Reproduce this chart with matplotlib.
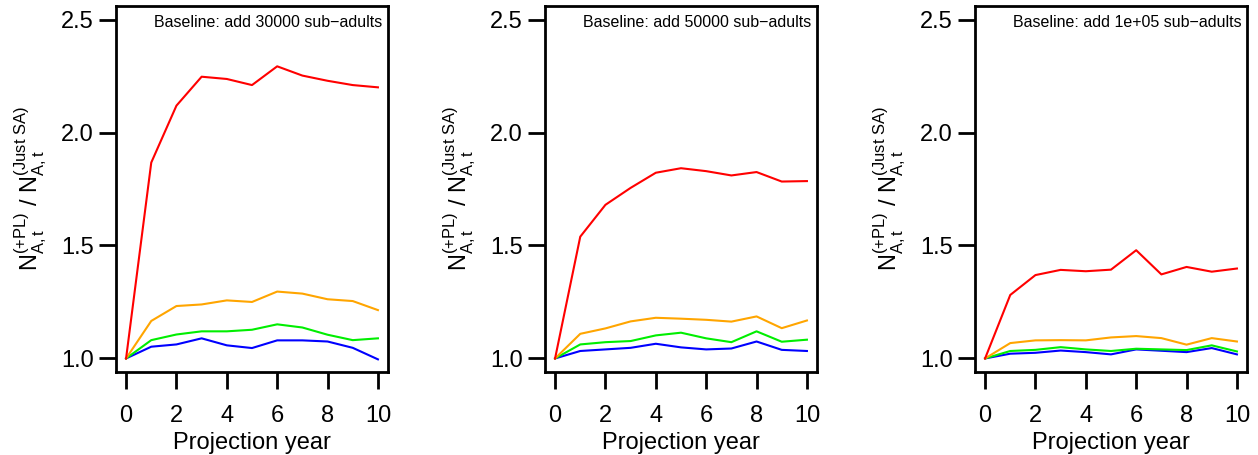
import numpy as np
import matplotlib
matplotlib.use("Agg")
import matplotlib.pyplot as plt

plt.rcParams['font.family'] = ['Liberation Sans', 'DejaVu Sans']
plt.rcParams['mathtext.fontset'] = 'custom'
plt.rcParams['mathtext.rm'] = 'Liberation Sans'
plt.rcParams['mathtext.it'] = 'Liberation Sans:italic'

years = np.arange(11)
baselines = ["30000", "50000", "1e+05"]

# panel 1: add 30000 sub-adults
red_1 = [1.0, 1.867, 2.119, 2.247, 2.237, 2.21, 2.293, 2.252, 2.229, 2.21, 2.2]
orange_1 = [1.0, 1.166, 1.232, 1.239, 1.257, 1.25, 1.296, 1.287, 1.262, 1.254, 1.214]
green_1 = [1.0, 1.081, 1.106, 1.12, 1.12, 1.127, 1.151, 1.137, 1.105, 1.081, 1.089]
blue_1 = [1.0, 1.052, 1.062, 1.089, 1.058, 1.046, 1.08, 1.08, 1.075, 1.047, 0.996]

# panel 2: add 50000 sub-adults
red_2 = [1.0, 1.539, 1.68, 1.755, 1.822, 1.842, 1.829, 1.81, 1.825, 1.783, 1.785]
orange_2 = [1.0, 1.109, 1.133, 1.164, 1.18, 1.176, 1.171, 1.163, 1.186, 1.134, 1.168]
green_2 = [1.0, 1.062, 1.072, 1.077, 1.102, 1.114, 1.089, 1.072, 1.12, 1.074, 1.083]
blue_2 = [1.0, 1.033, 1.04, 1.047, 1.065, 1.049, 1.04, 1.044, 1.075, 1.038, 1.033]

# panel 3: add 1e+05 sub-adults
red_3 = [1.0, 1.281, 1.369, 1.392, 1.386, 1.393, 1.479, 1.372, 1.405, 1.384, 1.398]
orange_3 = [1.0, 1.068, 1.08, 1.081, 1.08, 1.093, 1.099, 1.09, 1.061, 1.09, 1.075]
green_3 = [1.0, 1.033, 1.038, 1.05, 1.04, 1.033, 1.043, 1.04, 1.037, 1.058, 1.031]
blue_3 = [1.0, 1.021, 1.025, 1.035, 1.028, 1.018, 1.04, 1.034, 1.028, 1.046, 1.018]

panels = [
    [red_1, orange_1, green_1, blue_1],
    [red_2, orange_2, green_2, blue_2],
    [red_3, orange_3, green_3, blue_3],
]
colors = ["#FF0000", "#FFA500", "#00EE00", "#0000FF"]

fig = plt.figure(figsize=(12.58, 4.55), dpi=100)
lefts = [116 / 1258, 545 / 1258, 975 / 1258]
W, H = 272 / 1258, 366 / 455
bottom = 83 / 455

ylab = r'$\mathregular{N_{A,t}^{(+PL)}\ /\ N_{A,t}^{(Just\ SA)}}$'

for i, series in enumerate(panels):
    ax = fig.add_axes([lefts[i], bottom, W, H])
    # draw in reverse so red is on top like the original
    for s, c in zip(series[::-1], colors[::-1]):
        ax.plot(years, s, color=c, lw=1.5)
    ax.set_xlim(-0.4, 10.4)
    ax.set_ylim(0.94, 2.56)
    ax.set_xticks([0, 2, 4, 6, 8, 10])
    ax.set_yticks([1.0, 1.5, 2.0, 2.5])
    ax.set_yticklabels(["1.0", "1.5", "2.0", "2.5"])
    for sp in ax.spines.values():
        sp.set_linewidth(2)
    ax.tick_params(direction='out', length=12, width=2, labelsize=17, pad=4)
    ax.tick_params(axis='x', pad=12)
    ax.set_xlabel("Projection year", fontsize=17, labelpad=3)
    ax.set_ylabel(ylab, fontsize=17)
    ax.yaxis.set_label_coords(-0.245, 0.5)
    ax.text(0.98, 0.955, "Baseline: add %s sub\u2212adults" % baselines[i],
            transform=ax.transAxes, ha='right', va='center', fontsize=11.5)

fig.savefig("out.png", dpi=100)
